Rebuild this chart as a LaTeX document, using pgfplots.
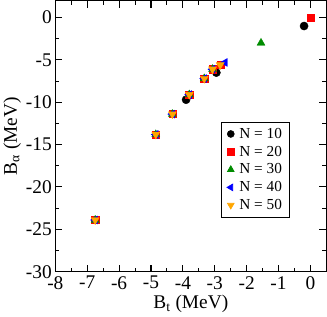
\documentclass[border=0pt]{standalone}
\usepackage{fontspec}
\setmainfont{Liberation Serif}
\usepackage{pgfplots}
\pgfplotsset{compat=1.18}
\definecolor{gr}{rgb}{0,0.55,0}
\definecolor{or}{rgb}{1,0.65,0}
\begin{document}
\begin{tikzpicture}
\begin{axis}[
  width=266pt, height=266pt, scale only axis,
  xmin=-8, xmax=0.5, ymin=-30, ymax=2,
  xtick={-8,-7,...,0}, ytick={-30,-25,...,0},
  minor x tick num=1, minor y tick num=1,
  tick align=inside, major tick length=7pt, minor tick length=4pt,
  axis line style={line width=1.2pt},
  every tick/.style={black, line width=1pt},
  tick label style={font=\fontsize{19}{19}\selectfont},
  xticklabel style={yshift=-1pt},
  /pgf/number format/assume math mode=true,
  label style={font=\fontsize{19}{19}\selectfont},
  xlabel={B\textsubscript{t} (MeV)},
  ylabel={B\textsubscript{α} (MeV)},
  xlabel style={yshift=1pt},
  ylabel style={yshift=-2pt},
  legend style={at={(0.613,0.2)}, anchor=south west, draw=black, line width=0.6pt,
    font=\fontsize{15}{15}\selectfont, row sep=2pt, inner xsep=5pt, inner ysep=4pt,
    /tikz/every odd column/.append style={column sep=3pt}},
  legend image post style={scale=0.85},
  legend cell align=left,
]
\addplot[only marks, mark=*, mark size=4pt, black]
  coordinates {(-0.2,-1.0) (-2.95,-6.5) (-3.9,-9.7)};
\addlegendentry{N = 10}
\addplot[only marks, mark=square*, mark size=3.5pt, red]
  coordinates {(-6.75,-23.9) (-4.85,-13.8) (-4.33,-11.4) (-3.8,-9.1) (-3.33,-7.2) (-3.07,-6.1) (-2.82,-5.6) (0,0)};
\addlegendentry{N = 20}
\addplot[only marks, mark=triangle*, mark size=4.5pt, gr]
  coordinates {(-6.75,-23.9) (-4.85,-13.8) (-4.33,-11.4) (-3.8,-9.1) (-3.33,-7.2) (-3.07,-6.1) (-1.55,-3.0)};
\addlegendentry{N = 30}
\addplot[only marks, mark=triangle*, mark size=4.5pt, blue, mark options={rotate=90}]
  coordinates {(-6.75,-23.9) (-4.85,-13.8) (-4.33,-11.4) (-3.8,-9.1) (-3.33,-7.2) (-3.07,-6.1) (-2.68,-5.3)};
\addlegendentry{N = 40}
\addplot[only marks, mark=triangle*, mark size=4.5pt, or, mark options={rotate=180}]
  coordinates {(-6.75,-23.9) (-4.85,-13.8) (-4.33,-11.4) (-3.8,-9.1) (-3.33,-7.2) (-3.07,-6.1) (-2.83,-5.6)};
\addlegendentry{N = 50}
\end{axis}
\end{tikzpicture}
\end{document}
